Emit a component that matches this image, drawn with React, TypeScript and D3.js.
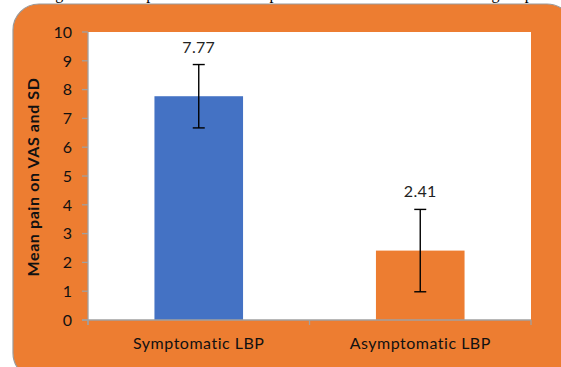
import React from "react";
import * as d3 from "d3";

const categories = ["Symptomatic LBP", "Asymptomatic LBP"];
const means = [7.77, 2.41];
const sds = [1.1, 1.43];
const barColors = ["#4472C4", "#ED7D31"];
const yTicks = [0, 1, 2, 3, 4, 5, 6, 7, 8, 9, 10];
const yTitle = "Mean pain on VAS and SD";
const caption = "Figure 2: Comparison of mean pain on VAS between the two groups";

export default function App() {
  const W = 561, H = 367;
  const left = 88, right = 531, top = 32, bottom = 320;
  const y = d3.scaleLinear().domain([0, 10]).range([bottom, top]);
  const x = d3.scaleBand().domain(categories).range([left, right]).paddingInner(0).paddingOuter(0);
  const barW = x.bandwidth() * 0.4;
  const font = "Lato, 'Open Sans', sans-serif";
  const axisColor = "#a0a0a0";
  return (
    <svg width={W} height={H} style={{ position: "absolute", left: 0, top: 0 }}>
      <rect x={0} y={0} width={W} height={H} fill="#ffffff" />
      <text x={40} y={-1} fontFamily="'Liberation Serif', serif" fontSize={16} textLength={500} fill="#000">{caption}</text>
      <rect x={13} y={4} width={560} height={375} rx={26} ry={26} fill="#ED7D31" stroke="#9a9a9a" strokeWidth={1.2} />
      <rect x={left} y={top} width={right - left} height={bottom - top} fill="#ffffff" />
      {categories.map((c, i) => {
        const cx = (x(c) as number) + x.bandwidth() / 2;
        const hi = y(means[i] + sds[i]);
        const lo = y(means[i] - sds[i]);
        return (
          <g key={c}>
            <rect x={cx - barW / 2} y={y(means[i])} width={barW} height={y(0) - y(means[i])} fill={barColors[i]} />
            <line x1={cx} x2={cx} y1={hi} y2={lo} stroke="#000" strokeWidth={1.4} />
            <line x1={cx - 6} x2={cx + 6} y1={hi} y2={hi} stroke="#000" strokeWidth={1.4} />
            <line x1={cx - 6} x2={cx + 6} y1={lo} y2={lo} stroke="#000" strokeWidth={1.4} />
            <text x={cx} y={hi - 12} textAnchor="middle" fontFamily={font} fontSize={16} letterSpacing={0.3} fill="#222">{means[i].toFixed(2)}</text>
            <text x={cx} y={349} textAnchor="middle" fontFamily={font} fontSize={16} letterSpacing={0.5} fill="#111">{c}</text>
          </g>
        );
      })}
      <line x1={left} x2={left} y1={top} y2={bottom + 5} stroke={axisColor} strokeWidth={1.3} />
      {yTicks.map((t) => (
        <g key={t}>
          <line x1={left - 6} x2={left} y1={y(t)} y2={y(t)} stroke={axisColor} strokeWidth={1.3} />
          <text x={72} y={y(t)} dy="0.36em" textAnchor="end" fontFamily={font} fontSize={16} fill="#111">{t}</text>
        </g>
      ))}
      <line x1={left - 6} x2={right} y1={bottom} y2={bottom} stroke={axisColor} strokeWidth={1.3} />
      {[left, (left + right) / 2, right].map((tx, i) => (
        <line key={i} x1={tx} x2={tx} y1={bottom} y2={bottom + 5} stroke={axisColor} strokeWidth={1.3} />
      ))}
      <text transform={`translate(39, ${(top + bottom) / 2 + 1}) rotate(-90)`} textAnchor="middle" fontFamily={font} fontWeight="bold" fontSize={16} letterSpacing={0.6} fill="#111">{yTitle}</text>
    </svg>
  );
}
